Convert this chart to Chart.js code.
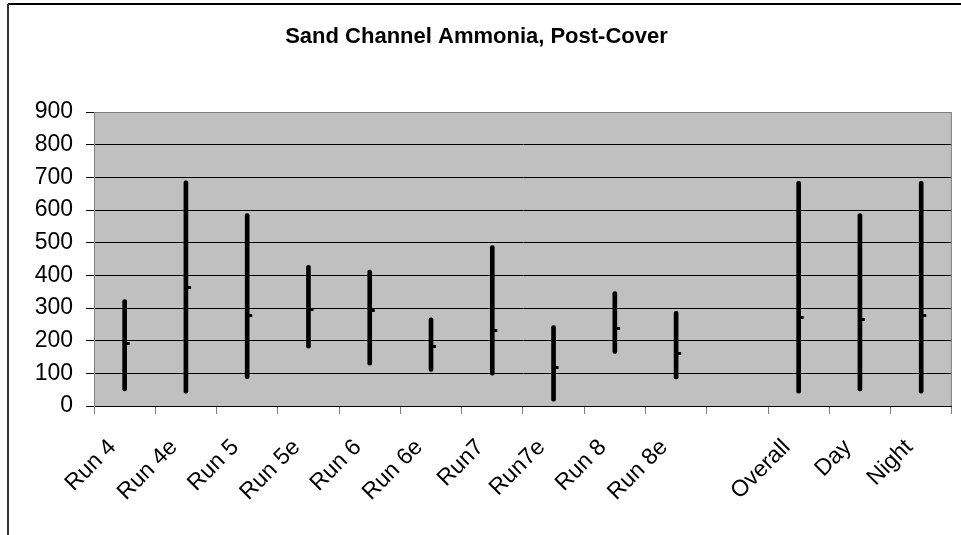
<!DOCTYPE html>
<html>
<head>
<meta charset="utf-8">
<script src="https://cdn.jsdelivr.net/npm/chart.js@4.4.0/dist/chart.umd.min.js"></script>
<style>
  html, body { margin: 0; padding: 0; background: #fff; }
  #wrap { width: 961px; height: 535px; position: relative; }
</style>
</head>
<body>
<div id="wrap"><canvas id="c" width="961" height="535"></canvas></div>
<script>
const categories = ['Run 4', 'Run 4e', 'Run 5', 'Run 5e', 'Run 6', 'Run 6e', 'Run7', 'Run7e', 'Run 8', 'Run 8e', '', 'Overall', 'Day', 'Night'];
const highValues  = [326, 689, 589, 431, 416, 270, 491, 246, 350, 290, null, 688, 589, 688];
const lowValues   = [46, 39, 84, 177, 125, 106, 94, 15, 161, 83, null, 39, 46, 39];
const closeValues = [192, 363, 278, 296, 291, 181, 230, 119, 236, 161, null, 271, 266, 278];
const yTicks = [0, 100, 200, 300, 400, 500, 600, 700, 800, 900];

const ranges = categories.map((c, i) => (lowValues[i] == null ? null : [lowValues[i], highValues[i]]));

// close marker: short stub to the right of the high-low line
const stub = document.createElement('canvas');
stub.width = 12; stub.height = 3;
const sctx = stub.getContext('2d');
sctx.fillStyle = '#000';
sctx.fillRect(6, 0, 5, 3);

const frame = {
  id: 'frame',
  beforeDraw(chart) {
    const { ctx, chartArea: a } = chart;
    ctx.save();
    ctx.fillStyle = '#ffffff';
    ctx.fillRect(0, 0, chart.width, chart.height);
    ctx.fillStyle = '#C0C0C0';
    ctx.fillRect(a.left, a.top, a.right - a.left, a.bottom - a.top);
    ctx.restore();
  },
  afterDraw(chart) {
    const { ctx, chartArea: a } = chart;
    ctx.save();
    ctx.strokeStyle = '#808080';
    ctx.lineWidth = 1;
    ctx.beginPath();
    ctx.moveTo(a.left, a.top + 0.5);
    ctx.lineTo(a.right - 0.5, a.top + 0.5);
    ctx.lineTo(a.right - 0.5, a.bottom);
    ctx.stroke();
    // outer chart frame (top and left visible)
    ctx.strokeStyle = '#000';
    ctx.lineWidth = 2;
    ctx.beginPath();
    ctx.moveTo(961, 4);
    ctx.lineTo(8, 4);
    ctx.stroke();
    ctx.strokeStyle = '#333';
    ctx.beginPath();
    ctx.moveTo(8, 4);
    ctx.lineTo(8, 535);
    ctx.stroke();
    ctx.restore();
  }
};

new Chart(document.getElementById('c'), {
  type: 'bar',
  data: {
    labels: categories,
    datasets: [
      {
        type: 'line',
        label: 'Close',
        data: closeValues,
        showLine: false,
        pointStyle: stub,
        pointRadius: 4,
        order: 0
      },
      {
        type: 'bar',
        label: 'High-Low',
        data: ranges,
        backgroundColor: '#000',
        borderWidth: 0,
        barThickness: 4,
        borderRadius: 2,
        borderSkipped: false,
        order: 1
      }
    ]
  },
  options: {
    responsive: false,
    animation: false,
    events: [],
    layout: { padding: { left: 0, right: 8, top: 0, bottom: 0 } },
    plugins: {
      legend: { display: false },
      tooltip: { enabled: false },
      title: {
        display: true,
        text: 'Sand Channel Ammonia, Post-Cover',
        color: '#000',
        font: { family: 'Liberation Sans, Arial, sans-serif', size: 22, weight: 'bold' },
        padding: { top: 23.4, bottom: 62.2 }
      }
    },
    scales: {
      x: {
        offset: true,
        grid: {
          offset: true,
          drawOnChartArea: false,
          drawTicks: true,
          tickLength: 8,
          color: '#808080',
          tickColor: '#808080'
        },
        border: { display: true, color: '#000', width: 1 },
        ticks: {
          autoSkip: false,
          minRotation: 45,
          maxRotation: 45,
          color: '#000',
          padding: 20,
          labelOffset: -12,
          font: { family: 'Liberation Sans, Arial, sans-serif', size: 23 }
        },
        afterFit(s) { s.height = 129; }
      },
      y: {
        min: 0,
        max: 900,
        afterBuildTicks(s) { s.ticks = yTicks.map(v => ({ value: v })); },
        grid: {
          color: ctx => (ctx.tick && ctx.tick.value === 900 ? '#808080' : '#000'),
          tickColor: '#000',
          tickLength: 8,
          lineWidth: 1
        },
        border: { display: true, color: '#808080', width: 1 },
        ticks: {
          color: '#000',
          padding: 13,
          font: { family: 'Liberation Sans, Arial, sans-serif', size: 23 }
        },
        afterFit(s) { s.width = 94; }
      }
    }
  },
  plugins: [frame]
});
</script>
</body>
</html>
